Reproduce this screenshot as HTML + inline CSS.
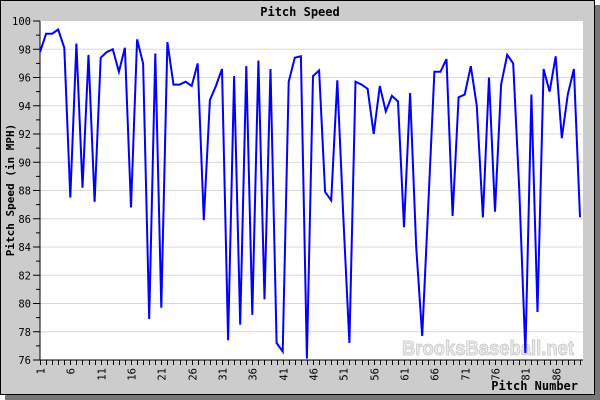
<!DOCTYPE html>
<html><head><meta charset="utf-8"><style>
html,body{margin:0;padding:0;background:#fff;}
svg{display:block;font-family:"DejaVu Sans Mono","Liberation Mono",monospace;}
</style></head><body>
<svg id="c" width="600" height="400" xmlns="http://www.w3.org/2000/svg">
<rect x="5" y="5" width="595" height="395" fill="#777"/>
<rect x="0.5" y="0.5" width="594" height="394" fill="#cccccc" stroke="#000"/>
<rect x="40" y="21" width="543" height="339" fill="#fff"/>
<g id="grid"></g>
<text x="300" y="16" text-anchor="middle" font-size="12" font-weight="bold" fill="#000">Pitch Speed</text>
<text x="402" y="355" font-family="Liberation Sans,sans-serif" font-size="20" font-weight="bold" fill="#ececec" stroke="#c4c4c4" stroke-width="0.8" textLength="172" lengthAdjust="spacingAndGlyphs">BrooksBaseball.net</text>
<g id="ax"></g>
<polyline id="ln" fill="none" stroke="#0000ff" stroke-width="2" stroke-linejoin="miter"/>
<text transform="translate(14,190) rotate(-90)" text-anchor="middle" font-size="11" font-weight="bold">Pitch Speed (in MPH)</text>
<text x="578" y="390" text-anchor="end" font-size="12" font-weight="bold">Pitch Number</text>
</svg>
<script>
var d=[97.8,99.1,99.1,99.4,98.1,87.5,98.4,88.2,97.6,87.2,97.4,97.8,98.0,96.4,98.1,86.8,98.7,97.0,78.9,97.7,79.7,98.5,95.5,95.5,95.7,95.4,97.0,85.9,94.4,95.4,96.6,77.4,96.1,78.5,96.8,79.2,97.2,80.3,96.6,77.2,76.6,95.7,97.4,97.5,76.1,96.1,96.5,87.9,87.3,95.8,86,77.2,95.7,95.5,95.2,92.0,95.4,93.6,94.7,94.3,85.4,94.9,84,77.7,87,96.4,96.4,97.3,86.2,94.6,94.8,96.8,94.0,86.1,96.0,86.5,95.5,97.6,97.0,88,76.5,94.8,79.4,96.6,95.0,97.5,91.7,94.8,96.6,86.1];
function X(i){return 40+(i-1)*6.067;}
function Y(v){return 21+(100-v)*14.125;}
var ns="http://www.w3.org/2000/svg";
function el(p,t,a,txt){var e=document.createElementNS(ns,t);for(var k in a)e.setAttribute(k,a[k]);if(txt!=null)e.textContent=txt;p.appendChild(e);return e;}
var g=document.getElementById('grid'),ax=document.getElementById('ax');
for(var v=76;v<=100;v+=2){var y=Y(v);
 if(v>76&&v<100)el(g,'line',{x1:40,x2:583,y1:y,y2:y,stroke:'#d8d8d8','stroke-width':1});
 el(ax,'line',{x1:33,x2:40,y1:y,y2:y,stroke:'#000'});
 el(ax,'text',{x:31,y:y+4,'text-anchor':'end','font-size':10.5},String(v));
 if(v<100){var y2=Y(v+1);el(ax,'line',{x1:36,x2:40,y1:y2,y2:y2,stroke:'#000'});}
}
el(ax,'line',{x1:40,x2:40,y1:21,y2:360,stroke:'#000'});
el(ax,'line',{x1:40,x2:583,y1:360,y2:360,stroke:'#000'});
for(var i=1;i<=90;i++){var x=Math.round(X(i))+0.5;
 el(ax,'line',{x1:x,x2:x,y1:360,y2:365,stroke:'#000'});
 if((i-1)%5==0){el(ax,'text',{transform:'translate('+(x+4)+',368) rotate(-90)','text-anchor':'end','font-size':10.5},String(i));}
}
var pts=d.map(function(v,i){return X(i+1).toFixed(1)+','+Y(v).toFixed(1);}).join(' ');
document.getElementById('ln').setAttribute('points',pts);
</script>
</body></html>
